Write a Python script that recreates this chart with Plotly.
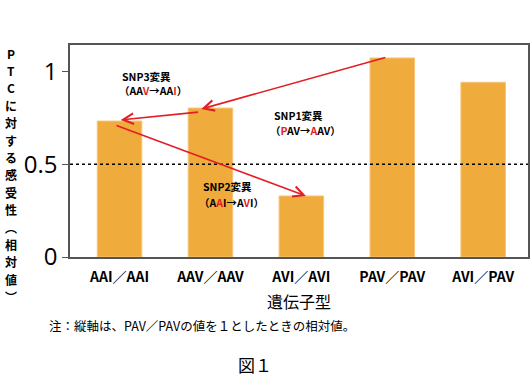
import plotly.graph_objects as go

categories = ["AAI／AAI", "AAV／AAV", "AVI／AVI", "PAV／PAV", "AVI／PAV"]
values = [0.733, 0.803, 0.329, 1.073, 0.942]
y_ticks = [0, 0.5, 1]
y_tick_labels = ["0", "0.5", "1"]
y_title = "PTCに対する感受性︵相対値︶"

BAR = "#f0ab3d"
RED = "#e31e24"
JP = "Noto Sans CJK JP"

W, H = 532, 384
L, R, T, B = 70, 2, 45, 127
pw, ph = W - L - R, H - T - B
def pxx(px):
    return (px - L) / pw
def pyy(py):
    return (H - B - py) / ph

fig = go.Figure()
fig.add_trace(go.Bar(
    x=list(range(len(categories))), y=values, width=0.49,
    marker=dict(color=BAR, line=dict(color="#f6c57a", width=1)),
))

fig.add_shape(type="line", xref="paper", x0=0, x1=1, yref="y", y0=0.5, y1=0.5,
              line=dict(color="black", width=1.5, dash="dot"))

# arrows (tail -> head) in data coords
arrows = [
    ((2.94, 1.078), (0.90, 0.798)),
    ((0.88, 0.782), (0.013, 0.739)),
    ((-0.05, 0.712), (2.05, 0.329)),
]
for (tx, ty), (hx, hy) in arrows:
    fig.add_annotation(x=hx, y=hy, ax=tx, ay=ty, xref="x", yref="y", axref="x", ayref="y",
                       text="", showarrow=True, arrowhead=5, arrowsize=1.3, arrowwidth=1.6,
                       arrowcolor=RED, standoff=0, startstandoff=0)

def r(s):
    return f"<span style='color:{RED}'>{s}</span>"

labels = [
    (147, 76, "SNP3変異"),
    (153, 90, "（AA" + r("V") + "→AA" + r("I") + "）"),
    (299, 115, "SNP1変異"),
    (307, 130, "（" + r("P") + "AV→" + r("A") + "AV）"),
    (228, 186, "SNP2変異"),
    (232, 202, "（A" + r("A") + "I→A" + r("V") + "I）"),
]
for px, py, t in labels:
    fig.add_annotation(x=pxx(px), y=pyy(py), xref="paper", yref="paper",
                       xanchor="center", yanchor="middle", text=t, showarrow=False,
                       font=dict(family=JP, size=10.5, color="black", weight="bold"))

# vertical y-axis title, one character per line
for k, ch in enumerate(y_title):
    fig.add_annotation(x=pxx(11), y=pyy(53 + 17.4 * k), xref="paper", yref="paper",
                       xanchor="center", yanchor="middle", text=ch, showarrow=False,
                       borderpad=0,
                       font=dict(family=JP, size=12, color="black", weight="bold"))

fig.add_annotation(x=pxx(47), y=pyy(325), xref="paper", yref="paper", xanchor="left",
                   yanchor="middle", text="注：縦軸は、PAV／PAVの値を１としたときの相対値。",
                   showarrow=False, font=dict(family=JP, size=12.5, color="black"))
fig.add_annotation(x=pxx(256), y=pyy(364), xref="paper", yref="paper", xanchor="center",
                   yanchor="middle", text="図１", showarrow=False,
                   font=dict(family=JP, size=17, color="black"))

fig.update_layout(
    width=W, height=H, margin=dict(l=L, r=R, t=T, b=B),
    plot_bgcolor="white", paper_bgcolor="white", showlegend=False,
    xaxis=dict(range=[-0.545, 4.493], tickmode="array", tickvals=list(range(len(categories))),
               ticktext=categories, showline=True, mirror=True, linecolor="#555555",
               linewidth=1.5, ticks="", showgrid=False, zeroline=False,
               ticklabelstandoff=6,
               tickfont=dict(family=JP, size=14, color="black", weight="bold"),
               title=dict(text="遺伝子型", font=dict(family=JP, size=16, color="black"),
                          standoff=12)),
    yaxis=dict(range=[0, 1.143], tickmode="array", tickvals=y_ticks, ticktext=y_tick_labels,
               showline=True, mirror=True, linecolor="#555555", linewidth=1.5,
               ticks="outside", ticklen=6, tickcolor="#555555", showgrid=False, zeroline=False,
               tickfont=dict(family="Open Sans", size=24, color="black")),
)

fig.write_html("out.html")
